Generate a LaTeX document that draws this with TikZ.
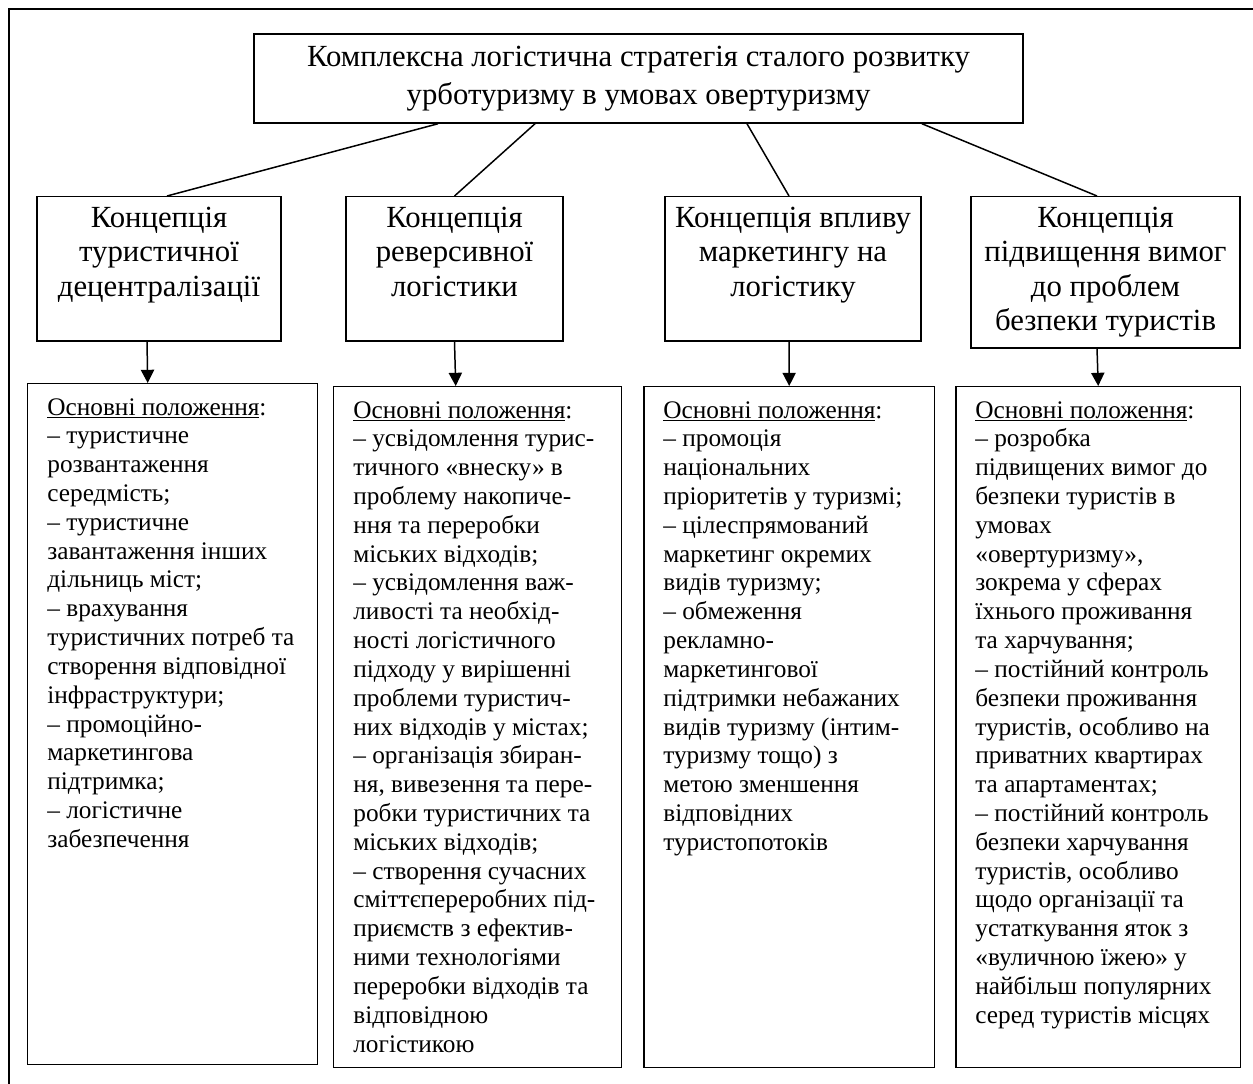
\documentclass[tikz,border=0pt]{standalone}
\usepackage{fontspec}
\setmainfont{Liberation Serif}
\usetikzlibrary{calc,arrows.meta,positioning}
\newcommand{\diagtopfont}{\fontsize{17.5}{21.8}\selectfont}
\newcommand{\diagfont}{\fontsize{17.5}{19.6}\selectfont}
\newcommand{\diagsmallfont}{\fontsize{14.4}{16.4}\selectfont}
\newcommand{\listhead}{\underline{Основні положення}:}

\begin{document}
\begin{tikzpicture}[
        x=0.02cm, y=-0.02cm,
        title/.style={draw, line width=0.85pt, align=center, minimum width=15.38cm, minimum height=1.78cm, font=\diagtopfont},
        concept/.style={draw, line width=0.85pt, anchor=north, align=center, inner xsep=2pt, inner ysep=5.9pt, font=\diagfont},
        listbox/.style={draw, line width=0.85pt, anchor=north west, minimum height=13.62cm},
        listtext/.style={anchor=north west, align=left, inner sep=0pt, font=\diagsmallfont},
        link/.style={line width=0.85pt},
        arr/.style={-{Triangle[length=7.5pt,width=7.5pt]}, line width=0.85pt},
        frame/.style={line width=1.1pt}
      ]
      \useasboundingbox (0,0) rectangle (1253,1084);
      \draw[frame] (9,1100) -- (9,9) -- (1270,9);

      % strategy and the four concepts
      \node[title] (strategy) at (638.5,78.5) {Комплексна логістична стратегія сталого розвитку \\ урботуризму в умовах овертуризму};
      \node[concept, minimum width=4.88cm] (decentr) at (159,196) {Концепція \\ туристичної \\ децентралізації \\ \mbox{}};
      \node[concept, minimum width=4.34cm] (reverse) at (454.5,196) {Концепція \\ реверсивної \\ логістики \\ \mbox{}};
      \node[concept, minimum width=5.12cm] (market) at (793,196) {Концепція впливу \\ маркетингу на \\ логістику \\ \mbox{}};
      \node[concept, minimum width=5.38cm] (safety) at (1105.5,196) {Концепція \\ підвищення вимог \\ до проблем \\ безпеки туристів};

      \draw[link] ([xshift=-4.01cm]strategy.south) -- ([xshift=0.16cm]decentr.north);
      \draw[link] ([xshift=-2.07cm]strategy.south) -- (reverse.north);
      \draw[link] ([xshift=2.17cm]strategy.south) -- ([xshift=-0.08cm]market.north);
      \draw[link] ([xshift=5.67cm]strategy.south) -- ([xshift=-0.17cm]safety.north);

      % main provisions
      \node[listbox, minimum width=5.8cm] (decentrbox) at (27,383) {};
      \node[listbox, minimum width=5.76cm] (reversebox) at (333,386) {};
      \node[listbox, minimum width=5.82cm] (marketbox) at (643,386) {};
      \node[listbox, minimum width=5.7cm] (safetybox) at (955,386) {};

      \draw[arr] ([xshift=-0.24cm]decentr.south) -- ([xshift=-0.5cm]decentrbox.north);
      \draw[arr] (reverse.south) -- ([xshift=-0.44cm]reversebox.north);
      \draw[arr] ([xshift=-0.08cm]market.south) -- (marketbox.north);
      \draw[arr] ([xshift=-0.17cm]safety.south) -- (safetybox.north);

      \node[listtext] (decentrtext) at ($(decentrbox.north west)+(20,15)$) {\listhead \\
        – туристичне \\ розвантаження \\ середмість; \\
        – туристичне \\ завантаження інших \\ дільниць міст; \\
        – врахування \\ туристичних потреб та \\ створення відповідної \\ інфраструктури; \\
        – промоційно- \\ маркетингова \\ підтримка; \\
        – логістичне \\ забезпечення};
      \node[listtext] (reversetext) at ($(reversebox.north west)+(20,15)$) {\listhead \\
        – усвідомлення турис- \\ тичного «внеску» в \\ проблему накопиче- \\ ння та переробки \\ міських відходів; \\
        – усвідомлення важ- \\ ливості та необхід- \\ ності логістичного \\ підходу у вирішенні \\ проблеми туристич- \\ них відходів у містах; \\
        – організація збиран- \\ ня, вивезення та пере- \\ робки туристичних та \\ міських відходів; \\
        – створення сучасних \\ сміттєпереробних під- \\ приємств з ефектив- \\ ними технологіями \\ переробки відходів та \\ відповідною \\ логістикою};
      \node[listtext] (markettext) at ($(marketbox.north west)+(20,15)$) {\listhead \\
        – промоція \\ національних \\ пріоритетів у туризмі; \\
        – цілеспрямований \\ маркетинг окремих \\ видів туризму; \\
        – обмеження \\ рекламно- \\ маркетингової \\ підтримки небажаних \\ видів туризму (інтим- \\ туризму тощо) з \\ метою зменшення \\ відповідних \\ туристопотоків};
      \node[listtext] (safetytext) at ($(safetybox.north west)+(20,15)$) {\listhead \\
        – розробка \\ підвищених вимог до \\ безпеки туристів в \\ умовах \\ «овертуризму», \\ зокрема у сферах \\ їхнього проживання \\ та харчування; \\
        – постійний контроль \\ безпеки проживання \\ туристів, особливо на \\ приватних квартирах \\ та апартаментах; \\
        – постійний контроль \\ безпеки харчування \\ туристів, особливо \\ щодо організації та \\ устаткування яток з \\ «вуличною їжею» у \\ найбільш популярних \\ серед туристів місцях};
    \end{tikzpicture}
\end{document}
